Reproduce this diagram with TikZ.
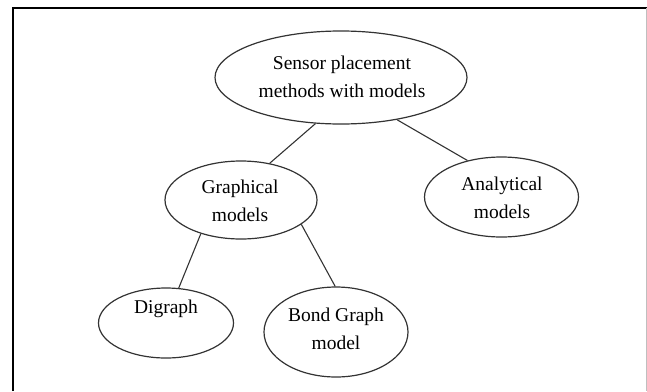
\documentclass[tikz,border=0pt]{standalone}
\usepackage{fontspec}
\setmainfont{Liberation Serif}
\usetikzlibrary{shapes.geometric}
\begin{document}
\begin{tikzpicture}[x=1pt,y=-1pt,
  oval/.style={draw=black!80,line width=1.2pt,ellipse,inner sep=0pt},
  lbl/.style={align=center,font=\fontsize{19.5}{28.5}\selectfont,inner sep=0pt,text=black},
  link/.style={draw=black!80,line width=1.1pt}]
\useasboundingbox (0,0) rectangle (647,391);
% frame
\draw[line width=2pt,black] (13,391) -- (13,8) -- (647,8);
\draw[line width=1pt,black!25] (646,8) -- (646,391);
% ellipses
\node[oval,minimum width=252pt,minimum height=93pt] (top) at (341,77.5) {};
\node[oval,minimum width=152pt,minimum height=78pt] (graph) at (241,200) {};
\node[oval,minimum width=154pt,minimum height=80pt] (anal) at (501.5,197) {};
\node[oval,minimum width=135pt,minimum height=70pt] (dig) at (166,323) {};
\node[oval,minimum width=144pt,minimum height=90pt] (bond) at (336,332) {};
% texts
\node[lbl] (ttop) at (342,77) {Sensor placement\\methods with models};
\node[lbl] (tgraph) at (240,201) {Graphical\\models};
\node[lbl] (tanal) at (502,198) {Analytical\\models};
\node[lbl] (tdig) at (166,309) {Digraph};
\node[lbl] (tbond) at (336,329) {Bond Graph\\model};
% connectors
\draw[link] (top.241) -- (graph.52);
\draw[link] (top.323) -- (anal.133);
\draw[link] (graph.220) -- (dig.70);
\draw[link] (graph.338) -- (bond.91);
\end{tikzpicture}
\end{document}
